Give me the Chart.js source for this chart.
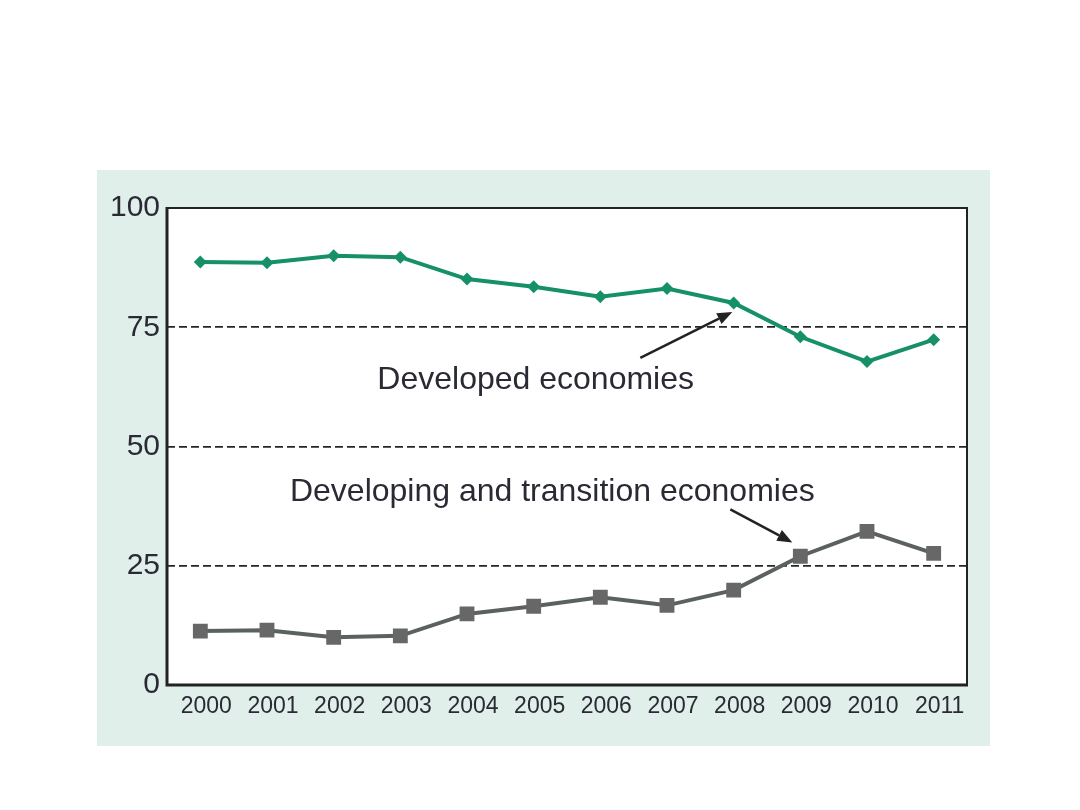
<!DOCTYPE html>
<html>
<head>
<meta charset="utf-8">
<script src="https://cdn.jsdelivr.net/npm/chart.js@4.4.1/dist/chart.umd.min.js"></script>
<style>
  html, body { margin: 0; padding: 0; background: #ffffff; }
  #panel {
    position: absolute; left: 97px; top: 170px;
    width: 893px; height: 576px; background: #e0efe9;
  }
</style>
</head>
<body>
<div id="panel"><canvas id="myChart"></canvas></div>
<script>
var years = ["2000","2001","2002","2003","2004","2005","2006","2007","2008","2009","2010","2011"];
var developed = [88.7, 88.5, 90.0, 89.7, 85.1, 83.5, 81.4, 83.1, 80.1, 73.0, 67.8, 72.4];
var developing = [11.3, 11.5, 10.0, 10.3, 14.9, 16.5, 18.4, 16.7, 19.9, 27.0, 32.2, 27.6];
var yTicks = [0, 25, 50, 75, 100];

// label text + arrow, anchored in data units (category index, value)
var notes = [
  { text: "Developed economies", x: 5.03, y: 64.0, from: [6.6, 68.6], to: [7.98, 78.2] },
  { text: "Developing and transition economies", x: 5.28, y: 40.4, from: [7.95, 36.8], to: [8.88, 29.9] }
];

var inkColor = '#2a2a35';

var framePlugin = {
  id: 'frame',
  beforeDraw: function (chart) {
    var a = chart.chartArea, ctx = chart.ctx;
    ctx.save();
    ctx.fillStyle = '#ffffff';
    ctx.fillRect(a.left, a.top, a.right - a.left, a.bottom - a.top);
    ctx.restore();
  },
  beforeDatasetsDraw: function (chart) {
    var a = chart.chartArea, ctx = chart.ctx;
    ctx.save();
    ctx.strokeStyle = '#222222';
    ctx.lineWidth = 2;
    ctx.beginPath();
    ctx.moveTo(a.left, a.top);
    ctx.lineTo(a.right, a.top);
    ctx.lineTo(a.right, a.bottom);
    ctx.stroke();
    ctx.lineWidth = 3;
    ctx.beginPath();
    ctx.moveTo(a.left, a.top - 1);
    ctx.lineTo(a.left, a.bottom);
    ctx.lineTo(a.right + 1, a.bottom);
    ctx.stroke();
    ctx.restore();
  }
};

var notesPlugin = {
  id: 'notes',
  afterDatasetsDraw: function (chart) {
    var ctx = chart.ctx, xs = chart.scales.x, ys = chart.scales.y;
    ctx.save();
    notes.forEach(function (n) {
      ctx.fillStyle = inkColor;
      ctx.font = '32px "Liberation Sans", Arial, sans-serif';
      ctx.textAlign = 'center';
      ctx.textBaseline = 'middle';
      ctx.fillText(n.text, xs.getPixelForValue(n.x), ys.getPixelForValue(n.y));

      var x1 = xs.getPixelForValue(n.from[0]), y1 = ys.getPixelForValue(n.from[1]);
      var x2 = xs.getPixelForValue(n.to[0]), y2 = ys.getPixelForValue(n.to[1]);
      var ang = Math.atan2(y2 - y1, x2 - x1);
      var head = 15, hw = 6;
      ctx.strokeStyle = '#222222';
      ctx.fillStyle = '#222222';
      ctx.lineWidth = 2.5;
      ctx.beginPath();
      ctx.moveTo(x1, y1);
      ctx.lineTo(x2 - head * Math.cos(ang), y2 - head * Math.sin(ang));
      ctx.stroke();
      ctx.beginPath();
      ctx.moveTo(x2, y2);
      ctx.lineTo(x2 - head * Math.cos(ang) + hw * Math.sin(ang), y2 - head * Math.sin(ang) - hw * Math.cos(ang));
      ctx.lineTo(x2 - head * Math.cos(ang) - hw * Math.sin(ang), y2 - head * Math.sin(ang) + hw * Math.cos(ang));
      ctx.closePath();
      ctx.fill();
    });
    ctx.restore();
  }
};

document.addEventListener('DOMContentLoaded', function () {
  var ctx = document.getElementById("myChart").getContext('2d');
  var myChart = new Chart(ctx, {
    type: 'line',
    data: {
      labels: years,
      datasets: [{
        label: 'Developed economies',
        data: developed,
        borderColor: '#169069',
        backgroundColor: '#169069',
        borderWidth: 4,
        tension: 0,
        pointStyle: 'rectRot',
        pointRadius: 6.5,
        pointBorderWidth: 0
      }, {
        label: 'Developing and transition economies',
        data: developing,
        borderColor: '#5b6161',
        backgroundColor: '#676767',
        borderWidth: 4,
        tension: 0,
        pointStyle: 'rect',
        pointRadius: 10.5,
        pointBorderWidth: 0
      }]
    },
    options: {
      responsive: true,
      maintainAspectRatio: false,
      animation: false,
      layout: { padding: { left: 0, top: 38, right: 23, bottom: 21 } },
      plugins: {
        legend: { display: false },
        tooltip: { enabled: false }
      },
      scales: {
        x: {
          offset: true,
          grid: { display: false, drawTicks: false },
          border: { display: false },
          ticks: {
            color: inkColor,
            padding: 8,
            labelOffset: 6,
            maxRotation: 0,
            autoSkip: false,
            font: { family: '"Liberation Sans", Arial, sans-serif', size: 23 }
          },
          afterFit: function (scale) { scale.height = 40; }
        },
        y: {
          min: 0,
          max: 100,
          afterBuildTicks: function (scale) {
            scale.ticks = yTicks.map(function (v) { return { value: v }; });
          },
          grid: {
            drawTicks: false,
            lineWidth: 1.7,
            color: function (c) {
              return (c.tick && (c.tick.value === 0 || c.tick.value === 100)) ? 'rgba(0,0,0,0)' : '#262626';
            }
          },
          border: { display: false, dash: [8, 4] },
          ticks: {
            color: inkColor,
            padding: 7,
            font: { family: '"Liberation Sans", Arial, sans-serif', size: 30 }
          },
          afterFit: function (scale) { scale.width = 70; }
        }
      }
    },
    plugins: [framePlugin, notesPlugin]
  });
});
</script>
</body>
</html>
